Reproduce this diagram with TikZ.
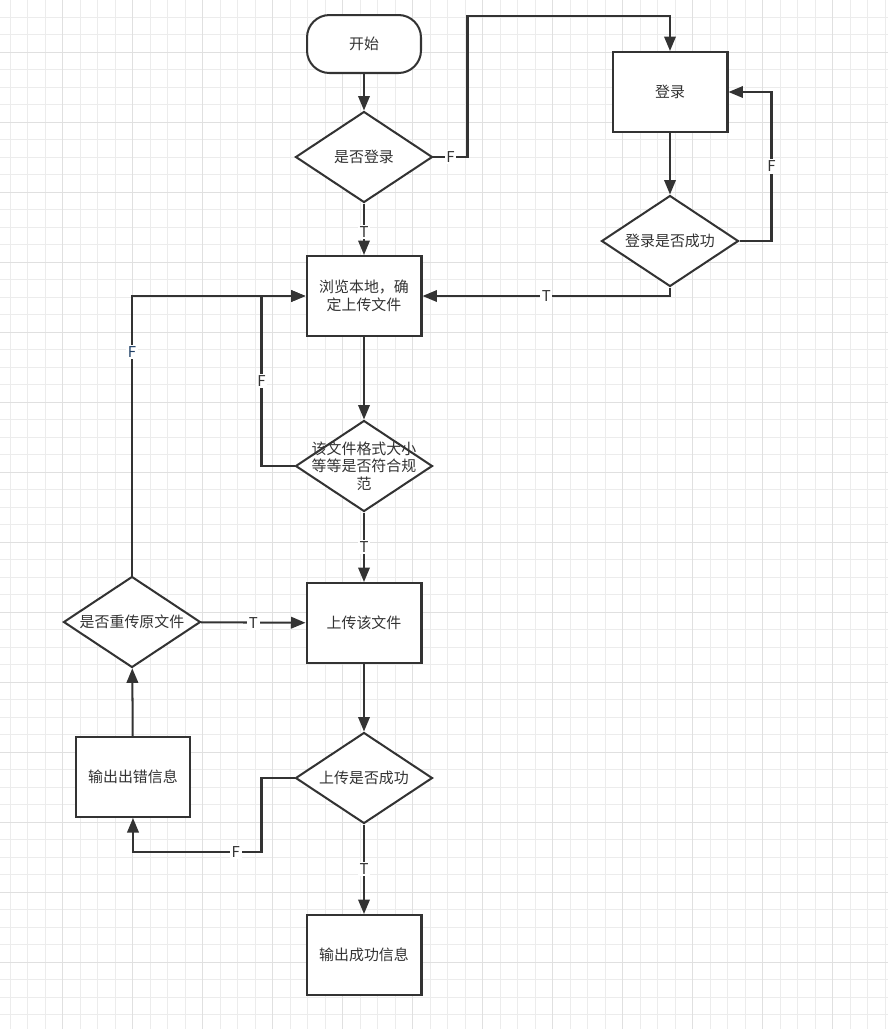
\documentclass[tikz,border=0pt]{standalone}
\usepackage{fontspec}
\setmainfont{Noto Sans CJK SC}
\usetikzlibrary{shapes.geometric,arrows.meta,calc}

\definecolor{ink}{HTML}{333333}
\definecolor{gridminor}{HTML}{ECECEC}
\definecolor{gridmajor}{HTML}{E0E0E0}
\definecolor{fblue}{HTML}{1F3F66}

\begin{document}
\begin{tikzpicture}[x=0.02cm, y=-0.02cm,
    every node/.style={text=ink, font=\fontsize{8.5}{10}\selectfont},
    box/.style={draw=ink, line width=1.15pt, fill=white, minimum width=2.3cm, minimum height=1.6cm, align=center},
    startbox/.style={draw=ink, line width=1.15pt, fill=white, rounded corners=0.45cm, minimum width=2.28cm, minimum height=1.16cm},
    decide/.style={draw=ink, line width=1.15pt, fill=white, diamond, inner sep=0pt, minimum width=2.74cm, minimum height=1.82cm},
    flow/.style={draw=ink, line width=1.15pt, -{Triangle[length=0.29cm, width=0.23cm]}},
    lbl/.style={fill=white, inner sep=1pt}]
    \useasboundingbox (0,0) rectangle (888,1029);
    \fill[white] (0,0) rectangle (888,1029);

    % Grid
    \foreach \k in {0,...,50} {
        \draw[gridminor, line width=0.02cm] ({10+17.5*\k},0) -- ({10+17.5*\k},1029);
    }
    \foreach \k in {0,...,59} {
        \draw[gridminor, line width=0.02cm] (0,{17.5*\k-0.5}) -- (888,{17.5*\k-0.5});
    }
    \foreach \k in {0,...,11} {
        \draw[gridmajor, line width=0.02cm] ({62.5+70*\k},0) -- ({62.5+70*\k},1029);
    }
    \foreach \k in {0,...,13} {
        \draw[gridmajor, line width=0.02cm] (0,{52+70*\k}) -- (888,{52+70*\k});
    }

    % Nodes
    \node[startbox] (start) at (364,44) {开始};
    \node[decide, label={center:是否登录}] (islogin) at (364,157) {};
    \node[box] (login) at (670,92) {登录};
    \node[decide, label={center:登录是否成功}] (loginok) at (670,241) {};
    \node[box] (browse) at (364,296) {浏览本地，确\\定上传文件};
    \node[decide, label={[align=center]center:该文件格式大小\\等等是否符合规\\范}] (check) at (364,466) {};
    \node[box] (upload) at (364,623) {上传该文件};
    \node[decide, label={center:是否重传原文件}] (retry) at (132,622) {};
    \node[box] (errmsg) at (133,777) {输出出错信息};
    \node[decide, label={center:上传是否成功}] (uploadok) at (364,778) {};
    \node[box] (okmsg) at (364,955) {输出成功信息};

    % Login
    \draw[flow] (start) -- (islogin);
    \draw[flow] (islogin.east) -- node[lbl]{F} ++(34,0) |- ($(login.north)+(0,-35)$) -- (login.north);
    \draw[flow] (login) -- (loginok);
    \draw[flow] (loginok.east) -- ++(32,0) |- node[lbl, pos=0.25]{F} (login.east);
    \draw[flow] (loginok.south) |- node[lbl, pos=0.75]{T} (browse.east);
    \draw[flow] (islogin) -- node[lbl, pos=0.55]{T} (browse);

    % Check file
    \draw[flow] (browse) -- (check);
    \draw[flow] (check.west) -- ++(-33,0) |- node[lbl, pos=0.25]{F} (browse.west);
    \draw[flow] (check) -- node[lbl]{T} (upload);

    % Upload
    \draw[flow] (upload) -- (uploadok);
    \draw[flow] (uploadok.west) -- ++(-33,0) |- node[lbl, pos=0.6]{F} ($(errmsg.south)+(0,34)$) -- (errmsg.south);
    \draw[flow] (uploadok) -- node[lbl]{T} (okmsg);
    \draw[flow] (errmsg) -- (retry);
    \draw[flow] (retry) -- node[lbl]{T} (upload);
    \draw[flow] (retry.north) |- node[lbl, pos=0.4, text=fblue]{F} (browse.west);
\end{tikzpicture}
\end{document}
